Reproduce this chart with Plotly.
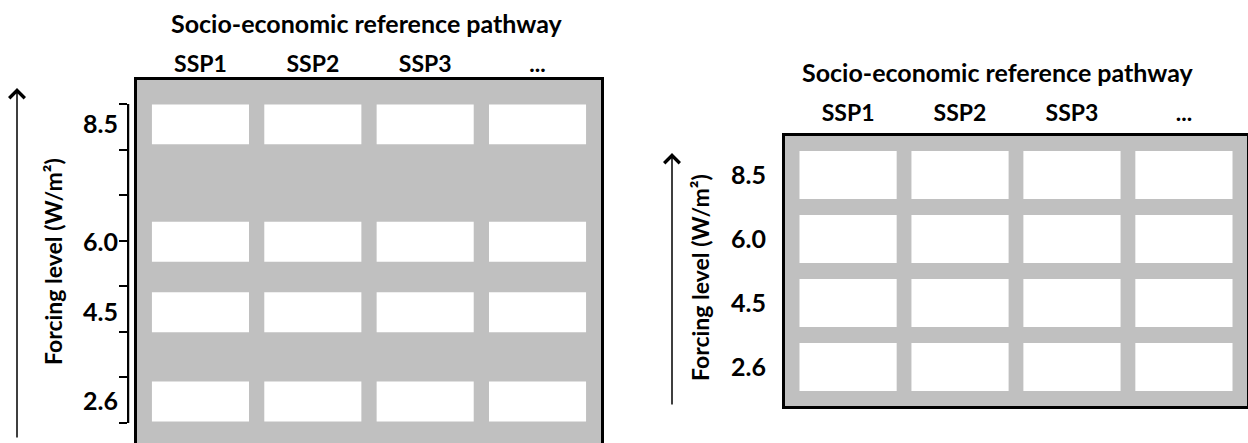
import plotly.graph_objects as go

# ---------------------------------------
# Data
# ---------------------------------------
ssp_labels = ["SSP1", "SSP2", "SSP3", "..."]
forcing = [8.5, 6.0, 4.5, 2.6]
forcing_labels = ["8.5", "6.0", "4.5", "2.6"]
title_text = "Socio-economic reference pathway"
axis_text = "Forcing level (W/m²)"

W, H = 1248, 443
GRAY = "#c0c0c0"
FONT = "Lato"


def px(x):
    return x / W


def py(y):
    return 1 - y / H


fig = go.Figure()

# Left panel: cells placed at their forcing value
cell_h = 0.85
for f in forcing:
    fig.add_trace(
        go.Bar(
            x=list(range(len(ssp_labels))),
            y=[cell_h] * len(ssp_labels),
            base=[f - cell_h / 2] * len(ssp_labels),
            width=0.864,
            marker=dict(color="white", line=dict(width=0)),
            xaxis="x",
            yaxis="y",
            showlegend=False,
            hoverinfo="skip"
        )
    )

# Right panel: evenly spaced grid
rows = list(range(len(forcing)))[::-1]
for r in rows:
    fig.add_trace(
        go.Bar(
            x=list(range(len(ssp_labels))),
            y=[0.75] * len(ssp_labels),
            base=[r - 0.375] * len(ssp_labels),
            width=0.868,
            marker=dict(color="white", line=dict(width=0)),
            xaxis="x2",
            yaxis="y2",
            showlegend=False,
            hoverinfo="skip"
        )
    )

# tick ruler next to the left panel
fig.add_trace(
    go.Scatter(
        x=[0, 0],
        y=[0, 7],
        mode="markers",
        marker=dict(opacity=0),
        xaxis="x3",
        yaxis="y3",
        showlegend=False,
        hoverinfo="skip"
    )
)

bold = dict(family=FONT, weight="bold", color="black")

fig.update_layout(
    width=W,
    height=H,
    autosize=False,
    margin=dict(l=0, r=0, t=0, b=0, pad=0),
    paper_bgcolor="white",
    plot_bgcolor=GRAY,
    barmode="overlay",
    font=dict(family=FONT, size=20, color="black"),
    xaxis=dict(
        domain=[px(137), px(601)],
        range=[-0.565, 3.565],
        side="top",
        tickvals=list(range(len(ssp_labels))),
        ticktext=ssp_labels,
        tickfont=dict(size=23, **bold),
        ticks="",
        ticklabelstandoff=-4,
        showline=True,
        linecolor="black",
        linewidth=3,
        showgrid=False,
        zeroline=False,
        automargin=False,
        fixedrange=True
    ),
    yaxis=dict(
        domain=[0, py(80)],
        range=[1.717, 9.445],
        tickvals=forcing,
        ticktext=forcing_labels,
        tickfont=dict(size=25, **bold),
        ticks="",
        ticklabelstandoff=11,
        showline=True,
        mirror=True,
        linecolor="black",
        linewidth=3,
        showgrid=False,
        zeroline=False,
        automargin=False,
        fixedrange=True
    ),
    xaxis2=dict(
        domain=[px(785), px(1247)],
        range=[-0.5635, 3.5635],
        side="top",
        anchor="y2",
        tickvals=list(range(len(ssp_labels))),
        ticktext=ssp_labels,
        tickfont=dict(size=23, **bold),
        ticks="",
        ticklabelstandoff=3,
        showline=True,
        mirror=True,
        linecolor="black",
        linewidth=3,
        showgrid=False,
        zeroline=False,
        automargin=False,
        fixedrange=True
    ),
    yaxis2=dict(
        domain=[py(406), py(136)],
        range=[-0.609, 3.609],
        anchor="x2",
        tickvals=rows,
        ticktext=forcing_labels,
        tickfont=dict(size=25, **bold),
        ticks="",
        ticklabelstandoff=11,
        showline=True,
        mirror=True,
        linecolor="black",
        linewidth=3,
        showgrid=False,
        zeroline=False,
        automargin=False,
        fixedrange=True
    ),
    xaxis3=dict(
        domain=[px(129), px(130)],
        anchor="y3",
        visible=False,
        automargin=False,
        fixedrange=True
    ),
    yaxis3=dict(
        domain=[py(423), py(104)],
        range=[-0.001, 7.001],
        anchor="x3",
        dtick=1,
        ticks="outside",
        ticklen=8,
        tickwidth=1.5,
        tickcolor="black",
        showticklabels=False,
        showline=True,
        linecolor="black",
        linewidth=1.5,
        showgrid=False,
        zeroline=False,
        automargin=False,
        fixedrange=True
    ),
    annotations=[
        dict(text=title_text, x=px(367), y=py(23), xref="paper", yref="paper",
             xanchor="center", yanchor="middle",
             showarrow=False, font=dict(size=25, **bold)),
        dict(text=title_text, x=px(998), y=py(72), xref="paper", yref="paper",
             xanchor="center", yanchor="middle",
             showarrow=False, font=dict(size=25, **bold)),
        dict(text=axis_text, x=px(53), y=py(262), xref="paper", yref="paper",
             xanchor="center", yanchor="middle",
             showarrow=False, textangle=-90, font=dict(size=23, **bold)),
        dict(text=axis_text, x=px(700), y=py(278), xref="paper", yref="paper",
             xanchor="center", yanchor="middle",
             showarrow=False, textangle=-90, font=dict(size=23, **bold)),
        # upward arrows
        dict(text="", x=px(17), y=py(88), xref="paper", yref="paper",
             showarrow=True, ax=0, ay=351, arrowhead=4, arrowsize=2,
             arrowwidth=1.5, arrowcolor="black"),
        dict(text="", x=px(672), y=py(153), xref="paper", yref="paper",
             showarrow=True, ax=0, ay=253, arrowhead=4, arrowsize=2,
             arrowwidth=1.5, arrowcolor="black"),
    ]
)

fig.write_html(
    "out.html",
    config={"displayModeBar": False},
    post_script="document.body.style.margin='0';"
)
